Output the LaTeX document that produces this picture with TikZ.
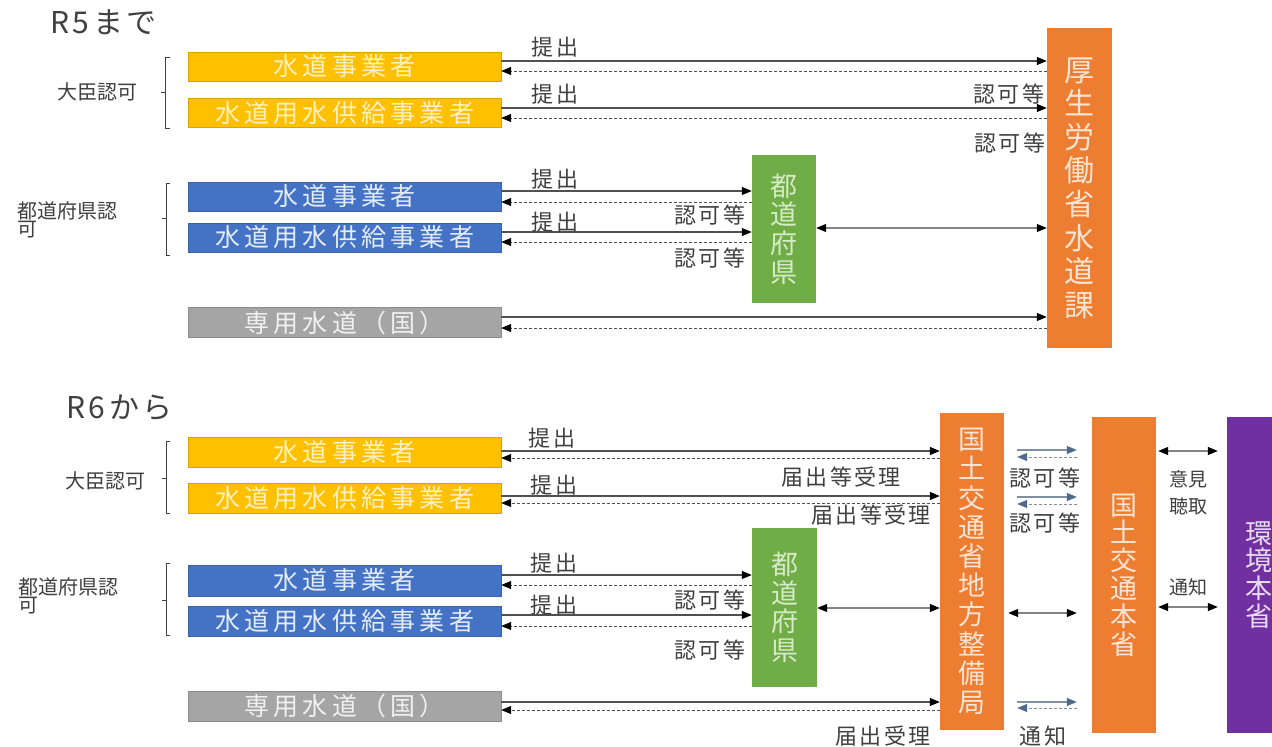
\documentclass[tikz,border=0pt]{standalone}
\usepackage{fontspec}
\setmainfont{Noto Sans CJK JP}
\newfontfamily\boxfont[LetterSpace=17]{Noto Sans CJK JP}
\newfontfamily\lblfont[LetterSpace=10]{Noto Sans CJK JP}
\newfontfamily\ttlfont[LetterSpace=12]{Noto Sans CJK JP}
\usetikzlibrary{arrows.meta}

\definecolor{ybar}{HTML}{FFC000}
\definecolor{ytxt}{HTML}{FFF0C0}
\definecolor{bbar}{HTML}{4472C4}
\definecolor{btxt}{HTML}{E4ECF8}
\definecolor{gbar}{HTML}{A5A5A5}
\definecolor{gtxt}{HTML}{F0F0F0}
\definecolor{grn}{HTML}{70AD47}
\definecolor{grntxt}{HTML}{D5EBC6}
\definecolor{org}{HTML}{ED7D31}
\definecolor{orgtxt}{HTML}{FCE4D4}
\definecolor{prp}{HTML}{7030A0}
\definecolor{prptxt}{HTML}{E8DAF4}
\definecolor{ink}{HTML}{404040}
\definecolor{linec}{HTML}{505050}
\definecolor{slate}{HTML}{4F6A8C}
\definecolor{slateline}{HTML}{8090A2}

\tikzset{
  hbar/.style={rectangle, inner sep=0pt, minimum width=313pt,
    font=\boxfont\fontsize{25}{25}\selectfont},
  ybox/.style={hbar, fill=ybar, draw=ybar!85!black, line width=0.4pt, text=ytxt, minimum height=29pt},
  bbox/.style={hbar, fill=bbar, draw=bbar!85!black, line width=0.4pt, text=btxt, minimum height=29pt},
  gbox/.style={hbar, fill=gbar, draw=gbar!85!black, line width=0.4pt, text=gtxt, minimum height=30pt},
  vbar/.style={rectangle, inner sep=0pt, minimum width=64pt, align=center,
    font=\fontsize{27}{28.6}\selectfont},
  lbl/.style={text=ink, inner sep=0pt, font=\lblfont\fontsize{22}{24}\selectfont},
  side/.style={text=ink, inner sep=0pt, font=\fontsize{20}{20}\selectfont, align=left},
  ttl/.style={text=ink, inner sep=0pt, anchor=base west, font=\ttlfont\fontsize{30}{30}\selectfont},
  sol/.style={draw=linec, line width=1.1pt, -{Triangle[length=10pt,width=8pt,color=black]}},
  dsh/.style={draw=linec, line width=0.9pt, dash pattern=on 3pt off 2pt, -{Triangle[length=10pt,width=8pt,color=black]}},
  both/.style={draw=linec!70, line width=1.1pt, {Triangle[length=10pt,width=8pt,color=black]}-{Triangle[length=10pt,width=8pt,color=black]}},
  ssol/.style={draw=slateline, line width=1.1pt, -{Triangle[length=10pt,width=8pt,color=slate]}},
  sdsh/.style={draw=slateline, line width=0.9pt, dash pattern=on 3pt off 2pt, -{Triangle[length=10pt,width=8pt,color=slate]}},
  brk/.style={draw=ink, line width=0.9pt}
}

\begin{document}
\begin{tikzpicture}[x=1pt, y=-1pt]
\useasboundingbox (0,0) rectangle (1272,747);
\clip (0,0) rectangle (1272,747);
\fill[white] (0,0) rectangle (1272,747);

% ---------- Before R6 ----------
\node[ttl] (t5) at (50,33) {R5まで};

\node[ybox] (ay1) at (344.5,66.5) {水道事業者};
\node[ybox] (ay2) at (344.5,113) {水道用水供給事業者};
\node[bbox] (ab1) at (344.5,196.5) {水道事業者};
\node[bbox] (ab2) at (344.5,237.5) {水道用水供給事業者};
\node[gbox] (ag) at (344.5,322.5) {専用水道（国）};

\node[vbar, fill=grn, text=grntxt, minimum height=148pt] (apref) at (784,229) {都\\道\\府\\県};
\node[vbar, fill=org, text=orgtxt, minimum width=65pt, minimum height=320pt,
      font=\fontsize{30}{33.6}\selectfont] (akosei) at (1079.5,188) {厚\\生\\労\\働\\省\\水\\道\\課};

% brackets and group labels
\draw[brk] (170,57) -- (165,57) -- (165,128) -- (170,128);
\draw[brk] (165,92) -- (161,92);
\node[side] (ag1) at (97,92) {大臣認可};
\draw[brk] (170,183) -- (166,183) -- (166,255) -- (170,255);
\draw[brk] (166,218) -- (162,218);
\node[side, anchor=north west] (ag2) at (17,201) {都道府県認\\[-2pt]可};

% connectors
\draw[sol] (ay1.east |- 0,61) -- (akosei.west |- 0,61);
\draw[dsh] (akosei.west |- 0,71) -- (ay1.east |- 0,71);
\draw[sol] (ay2.east |- 0,108) -- (akosei.west |- 0,108);
\draw[dsh] (akosei.west |- 0,118) -- (ay2.east |- 0,118);
\draw[sol] (ab1.east |- 0,191) -- (apref.west |- 0,191);
\draw[dsh] (apref.west |- 0,202) -- (ab1.east |- 0,202);
\draw[sol] (ab2.east |- 0,232) -- (apref.west |- 0,232);
\draw[dsh] (apref.west |- 0,242) -- (ab2.east |- 0,242);
\draw[both] (apref.east |- 0,228) -- (akosei.west |- 0,228);
\draw[sol] (ag.east |- 0,317) -- (akosei.west |- 0,317);
\draw[dsh] (akosei.west |- 0,328) -- (ag.east |- 0,328);

\node[lbl] (al1) at (555,47) {提出};
\node[lbl] (al2) at (555,94) {提出};
\node[lbl] (al3) at (555,179) {提出};
\node[lbl] (al4) at (555,222) {提出};
\node[lbl] (al5) at (1009,94) {認可等};
\node[lbl] (al6) at (1010,143) {認可等};
\node[lbl] (al7) at (710,215) {認可等};
\node[lbl] (al8) at (710,258) {認可等};

% ---------- From R6 ----------
\node[ttl] (t6) at (66,418) {R6から};

\node[ybox, minimum height=30pt] (by1) at (344.5,452) {水道事業者};
\node[ybox, minimum height=30pt] (by2) at (344.5,498) {水道用水供給事業者};
\node[bbox, minimum height=31pt] (bb1) at (344.5,580.5) {水道事業者};
\node[bbox, minimum height=30pt] (bb2) at (344.5,621) {水道用水供給事業者};
\node[gbox] (bg) at (344.5,706) {専用水道（国）};

\node[vbar, fill=grn, text=grntxt, minimum width=65pt, minimum height=159pt] (bpref) at (784.5,607.5) {都\\道\\府\\県};
\node[vbar, fill=org, text=orgtxt, minimum height=317pt, font=\fontsize{27}{29.2}\selectfont] (bureau) at (972,571.5)
  {国\\土\\交\\通\\省\\地\\方\\整\\備\\局};
\node[vbar, fill=org, text=orgtxt, minimum height=316pt, font=\fontsize{27}{27.8}\selectfont] (honsho) at (1124,575)
  {国\\土\\交\\通\\本\\省};
\node[vbar, fill=prp, text=prptxt, minimum height=316pt, font=\fontsize{27}{27.8}\selectfont] (kankyo) at (1259,575)
  {環\\境\\本\\省};

\draw[brk] (170,441) -- (166,441) -- (166,513) -- (170,513);
\draw[brk] (166,478) -- (162,478);
\node[side] (bg1) at (105,481) {大臣認可};
\draw[brk] (170,563) -- (166,563) -- (166,635) -- (170,635);
\draw[brk] (166,600) -- (162,600);
\node[side, anchor=north west] (bg2) at (18,577) {都道府県認\\[-2pt]可};

\draw[sol] (by1.east |- 0,451) -- (bureau.west |- 0,451);
\draw[dsh] (bureau.west |- 0,458) -- (by1.east |- 0,458);
\draw[sol] (by2.east |- 0,496) -- (bureau.west |- 0,496);
\draw[dsh] (bureau.west |- 0,503) -- (by2.east |- 0,503);
\draw[sol] (bb1.east |- 0,575) -- (bpref.west |- 0,575);
\draw[dsh] (bpref.west |- 0,585) -- (bb1.east |- 0,585);
\draw[sol] (bb2.east |- 0,615) -- (bpref.west |- 0,615);
\draw[dsh] (bpref.west |- 0,626) -- (bb2.east |- 0,626);
\draw[both] (bpref.east |- 0,608) -- (bureau.west |- 0,608);
\draw[sol] (bg.east |- 0,702) -- (bureau.west |- 0,702);
\draw[dsh] (bureau.west |- 0,710) -- (bg.east |- 0,710);

% bureau <-> ministry
\draw[ssol, shorten <=13pt, shorten >=15pt] (bureau.east |- 0,450) -- (honsho.west |- 0,450);
\draw[sdsh, shorten <=15pt, shorten >=13pt] (honsho.west |- 0,457) -- (bureau.east |- 0,457);
\draw[ssol, shorten <=13pt, shorten >=15pt] (bureau.east |- 0,497) -- (honsho.west |- 0,497);
\draw[sdsh, shorten <=15pt, shorten >=13pt] (honsho.west |- 0,504) -- (bureau.east |- 0,504);
\draw[both, shorten <=4pt, shorten >=15pt] (bureau.east |- 0,613) -- (honsho.west |- 0,613);
\draw[ssol, shorten <=13pt, shorten >=15pt] (bureau.east |- 0,702) -- (honsho.west |- 0,702);
\draw[sdsh, shorten <=15pt, shorten >=13pt] (honsho.west |- 0,708) -- (bureau.east |- 0,708);

% ministry <-> environment ministry
\draw[both, shorten <=2pt, shorten >=9pt] (honsho.east |- 0,451) -- (kankyo.west |- 0,451);
\draw[both, shorten <=2pt, shorten >=9pt] (honsho.east |- 0,607) -- (kankyo.west |- 0,607);

\node[lbl] (bl1) at (552,438) {提出};
\node[lbl] (bl2) at (554,485) {提出};
\node[lbl] (bl3) at (554,563) {提出};
\node[lbl] (bl4) at (554,605) {提出};
\node[lbl] (bl5) at (841,477) {届出等受理};
\node[lbl] (bl6) at (871,515) {届出等受理};
\node[lbl] (bl7) at (710,600) {認可等};
\node[lbl] (bl8) at (710,650) {認可等};
\node[lbl] (bl9) at (883,736) {届出受理};
\node[lbl] (bl10) at (1045,478) {認可等};
\node[lbl] (bl11) at (1045,523) {認可等};
\node[lbl] (bl12) at (1043,736) {通知};
\node[side, align=center, font=\fontsize{19}{27}\selectfont] (bl13) at (1188,493) {意見\\聴取};
\node[side, font=\fontsize{19}{19}\selectfont] (bl14) at (1188,587) {通知};
\end{tikzpicture}
\end{document}
